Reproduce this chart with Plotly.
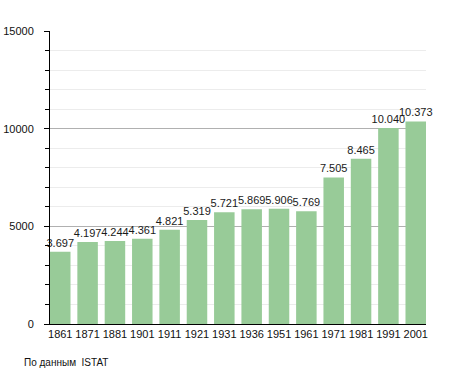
import plotly.graph_objects as go

years = ["1861", "1871", "1881", "1901", "1911", "1921", "1931", "1936",
         "1951", "1961", "1971", "1981", "1991", "2001"]
population = [3697, 4197, 4244, 4361, 4821, 5319, 5721, 5869,
              5906, 5769, 7505, 8465, 10040, 10373]
labels = [f"{v:,}".replace(",", ".") for v in population]

fig = go.Figure()
fig.add_trace(go.Bar(
    x=years, y=population, text=labels, textposition="outside",
    textfont=dict(family="Liberation Sans, Arial", size=11, color="#1a1a1a"),
    marker=dict(color="#98cb98", line=dict(width=0)),
    cliponaxis=False, width=0.75, constraintext="none",
))

fig.update_layout(
    width=455, height=373,
    margin=dict(l=50, r=29, t=31, b=49, autoexpand=False),
    paper_bgcolor="white", plot_bgcolor="white",
    showlegend=False,
    font=dict(family="Liberation Sans, Arial", size=11, color="#111"),
    xaxis=dict(type="category", range=[-0.375, 13.375], showline=True,
               linecolor="black", linewidth=1, ticks="", showgrid=False,
               tickfont=dict(size=11), automargin=False),
    yaxis=dict(range=[0, 15000], tickvals=[0, 5000, 10000, 15000],
               ticktext=["0", "5000", "10000", "15000"],
               showline=True, linecolor="black", linewidth=1,
               ticks="outside", ticklen=5, tickcolor="black",
               showgrid=True, gridcolor="#b0b0b0", gridwidth=1,
               zeroline=False, ticklabelstandoff=8, automargin=False,
               minor=dict(dtick=1000, showgrid=True, gridcolor="#ececec",
                          ticks="outside", ticklen=4, tickcolor="black")),
    bargap=0.25,
    annotations=[dict(text="По данным  ISTAT", xref="paper", yref="paper",
                      x=(22 - 50) / 376, y=(324 - 362) / 293,
                      xanchor="left", yanchor="middle", showarrow=False,
                      font=dict(size=10, color="#111"))],
)
fig.write_html("out.html", config={"displayModeBar": False},
               post_script="document.body.style.margin='0';"
                           "document.body.style.overflow='hidden';")
